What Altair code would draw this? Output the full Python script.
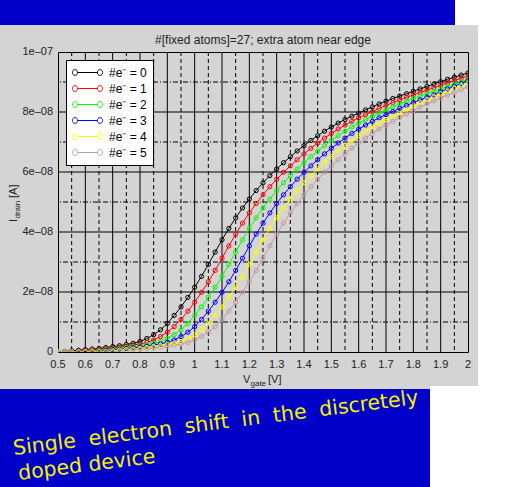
import altair as alt
import pandas as pd

# ---------------- data (drain current in units of 1e-8 A) ----------------
volts = [round(0.5 + 0.025 * i, 4) for i in range(61)]  # V_gate sampling grid 0.5 .. 2.0

labels = ["#e\u207b = 0", "#e\u207b = 1", "#e\u207b = 2", "#e\u207b = 3", "#e\u207b = 4", "#e\u207b = 5"]
colors = ["#000000", "#ff0000", "#00ff00", "#0000ff", "#ffff00", "#c49a9a"]

e0 = [0.00, 0.02, 0.04, 0.06, 0.08, 0.10, 0.12, 0.15, 0.18, 0.21,
      0.25, 0.29, 0.35, 0.45, 0.58, 0.74, 0.95, 1.22, 1.50, 1.82,
      2.16, 2.52, 2.92, 3.33, 3.74, 4.12, 4.47, 4.80, 5.10, 5.38,
      5.64, 5.88, 6.10, 6.31, 6.51, 6.70, 6.88, 7.05, 7.21, 7.36,
      7.50, 7.63, 7.75, 7.86, 7.96, 8.07, 8.17, 8.27, 8.36, 8.45,
      8.53, 8.61, 8.69, 8.77, 8.85, 8.93, 9.01, 9.09, 9.16, 9.23,
      9.30]
e1 = [0.00, 0.005, 0.01, 0.03, 0.05, 0.07, 0.09, 0.11, 0.135, 0.165,
      0.195, 0.23, 0.27, 0.32, 0.40, 0.515, 0.66, 0.845, 1.085, 1.36,
      1.66, 1.99, 2.34, 2.72, 3.125, 3.535, 3.93, 4.295, 4.635, 4.95,
      5.24, 5.51, 5.76, 5.99, 6.205, 6.41, 6.605, 6.79, 6.965, 7.13,
      7.285, 7.43, 7.565, 7.69, 7.805, 7.91, 8.015, 8.12, 8.22, 8.315,
      8.405, 8.49, 8.57, 8.65, 8.73, 8.81, 8.89, 8.97, 9.05, 9.125,
      9.195]
e2 = [0.00, 0.005, 0.01, 0.015, 0.025, 0.04, 0.06, 0.08, 0.10, 0.12,
      0.15, 0.18, 0.21, 0.25, 0.29, 0.35, 0.45, 0.58, 0.74, 0.95,
      1.22, 1.50, 1.82, 2.16, 2.52, 2.92, 3.33, 3.74, 4.12, 4.47,
      4.80, 5.10, 5.38, 5.64, 5.88, 6.10, 6.31, 6.51, 6.70, 6.88,
      7.05, 7.21, 7.36, 7.50, 7.63, 7.75, 7.86, 7.96, 8.07, 8.17,
      8.27, 8.36, 8.45, 8.53, 8.61, 8.69, 8.77, 8.85, 8.93, 9.01,
      9.09]
e3 = [0.00, 0.002, 0.004, 0.006, 0.008, 0.01, 0.03, 0.05, 0.07, 0.09,
      0.11, 0.135, 0.165, 0.195, 0.23, 0.27, 0.32, 0.40, 0.515, 0.66,
      0.845, 1.085, 1.36, 1.66, 1.99, 2.34, 2.72, 3.125, 3.535, 3.93,
      4.295, 4.635, 4.95, 5.24, 5.51, 5.76, 5.99, 6.205, 6.41, 6.605,
      6.79, 6.965, 7.13, 7.285, 7.43, 7.565, 7.69, 7.805, 7.91, 8.015,
      8.12, 8.22, 8.315, 8.405, 8.49, 8.57, 8.68, 8.77, 8.86, 8.95,
      9.04]
e4 = [0.00, 0.002, 0.004, 0.006, 0.008, 0.012, 0.016, 0.02, 0.04, 0.06,
      0.08, 0.10, 0.12, 0.15, 0.18, 0.21, 0.25, 0.29, 0.35, 0.45,
      0.58, 0.74, 0.95, 1.22, 1.50, 1.82, 2.16, 2.52, 2.92, 3.33,
      3.74, 4.12, 4.47, 4.80, 5.10, 5.38, 5.64, 5.88, 6.10, 6.31,
      6.51, 6.70, 6.88, 7.05, 7.21, 7.36, 7.50, 7.63, 7.75, 7.86,
      7.96, 8.07, 8.20, 8.31, 8.41, 8.51, 8.60, 8.69, 8.78, 8.87,
      8.96]
e5 = [0.00, 0.001, 0.002, 0.003, 0.004, 0.005, 0.006, 0.008, 0.01, 0.03,
      0.05, 0.07, 0.09, 0.11, 0.135, 0.165, 0.195, 0.23, 0.27, 0.32,
      0.40, 0.515, 0.66, 0.845, 1.085, 1.36, 1.66, 1.99, 2.34, 2.72,
      3.125, 3.535, 3.93, 4.295, 4.635, 4.95, 5.24, 5.51, 5.76, 5.99,
      6.205, 6.41, 6.605, 6.79, 6.965, 7.13, 7.285, 7.43, 7.565, 7.69,
      7.82, 7.93, 8.05, 8.16, 8.27, 8.37, 8.47, 8.56, 8.65, 8.75,
      8.84]
series = [e0, e1, e2, e3, e4, e5]

x_major = [0.5, 0.6, 0.7, 0.8, 0.9, 1.0, 1.1, 1.2, 1.3, 1.4, 1.5, 1.6, 1.7, 1.8, 1.9, 2.0]
x_major_labels = ["0.5", "0.6", "0.7", "0.8", "0.9", "1", "1.1", "1.2", "1.3", "1.4",
                  "1.5", "1.6", "1.7", "1.8", "1.9", "2"]
x_minor = [0.55, 0.65, 0.75, 0.85, 0.95, 1.05, 1.15, 1.25, 1.35, 1.45, 1.55, 1.65, 1.75, 1.85, 1.95]
y_major = [0, 2e-8, 4e-8, 6e-8, 8e-8, 1e-7]
y_major_labels = ["0", "2e\u201308", "4e\u201308", "6e\u201308", "8e\u201308", "1e\u201307"]
y_minor = [1e-8, 3e-8, 5e-8, 7e-8, 9e-8]

title_text = "#[fixed atoms]=27; extra atom near edge"
NB = "\u00a0"
caption_1 = ("Single" + NB + NB + "electron" + NB + NB + "shift" + NB + NB + "in" + NB + NB
             + "the" + NB + NB + "discretely")
caption_2 = "doped" + NB + "device"

rows = []
for k, (lab, vals) in enumerate(zip(labels, series)):
    for v, y in zip(volts, vals):
        rows.append({"V": v, "I": y * 1e-8, "series": lab, "k": k})
df = pd.DataFrame(rows)

# ---------------- layout ----------------
W, H = 410, 300          # plot area
L, T = 58, 52            # plot origin on the page
GRAY = "#d4d4d4"
BLUE = "#0000c8"
YELLOW = "#f2f200"
INK = "#222222"
FONT = "Liberation Sans"

xs = alt.Scale(domain=[0.5, 2.0], nice=False, zero=False)
ys = alt.Scale(domain=[0, 1e-7], nice=False, zero=False)
cs = alt.Scale(domain=labels, range=colors)

one = pd.DataFrame({"d": [0]})


def box(x1, x2, y1, y2, color):
    return alt.Chart(one).mark_rect(color=color, opacity=1).encode(
        x=alt.value(x1 - L), x2=alt.value(x2 - L), y=alt.value(y1 - T), y2=alt.value(y2 - T)
    )


def txt(s, x, y, size, color, angle=0, font=FONT, align="left"):
    return alt.Chart(one).mark_text(
        text=s, fontSize=size, color=color, font=font, angle=angle,
        align=align, baseline="alphabetic"
    ).encode(x=alt.value(x - L), y=alt.value(y - T))


deco = [
    box(0, 455, 0, 25, BLUE),
    box(455, 506, 0, 25, "white"),
    box(478, 506, 0, 487, "white"),
    box(0, 430, 389, 487, BLUE),
    box(430, 506, 386, 487, "white"),
]

major_x = alt.Chart(pd.DataFrame({"gx": x_major[1:-1]})).mark_rule(
    color="black", strokeWidth=1).encode(x=alt.X("gx:Q", scale=xs, axis=None))
minor_x = alt.Chart(pd.DataFrame({"mx": x_minor})).mark_rule(
    color="black", strokeWidth=1, strokeDash=[4, 3]).encode(x=alt.X("mx:Q", scale=xs, axis=None))
major_y = alt.Chart(pd.DataFrame({"gy": y_major[1:-1]})).mark_rule(
    color="black", strokeWidth=1).encode(y=alt.Y("gy:Q", scale=ys, axis=None))
minor_y = alt.Chart(pd.DataFrame({"my": y_minor})).mark_rule(
    color="black", strokeWidth=1, strokeDash=[5, 2, 1, 2]).encode(y=alt.Y("my:Q", scale=ys, axis=None))

# tick labels, placed through the same scales
x_ticks = alt.Chart(pd.DataFrame({"tx": x_major, "lab": x_major_labels})).mark_text(
    fontSize=11, font=FONT, color=INK, align="center", baseline="alphabetic"
).encode(x=alt.X("tx:Q", scale=xs, axis=None), y=alt.value(H + 16), text="lab:N")
y_ticks = alt.Chart(pd.DataFrame({"ty": y_major, "lab": y_major_labels})).mark_text(
    fontSize=11, font=FONT, color=INK, align="right", baseline="middle"
).encode(y=alt.Y("ty:Q", scale=ys, axis=None), x=alt.value(-5), text="lab:N")

SYM = ("M-1.67,0L1.67,0"
       "M-1.67,0A0.42,0.42,0,1,1,-2.5,0A0.42,0.42,0,1,1,-1.67,0"
       "M2.5,0A0.42,0.42,0,1,1,1.67,0A0.42,0.42,0,1,1,2.5,0")
legend = alt.Legend(
    title=None, orient="top-left", offset=8, fillColor="white", strokeColor="black",
    padding=6, labelFontSize=12, labelFont=FONT, labelColor="black", symbolType=SYM,
    symbolSize=144, symbolStrokeWidth=1, symbolFillColor="transparent", rowPadding=3,
    symbolOffset=9, labelOffset=15, cornerRadius=0,
)

lines = alt.Chart(df).mark_line(strokeWidth=1, clip=True).encode(
    x=alt.X("V:Q", scale=xs, axis=None),
    y=alt.Y("I:Q", scale=ys, axis=None),
    color=alt.Color("series:N", scale=cs, legend=legend),
    detail="k:N",
)
points = alt.Chart(df).mark_point(shape="circle", filled=False, size=18, strokeWidth=1,
                                  opacity=1, clip=True).encode(
    x=alt.X("V:Q", scale=xs, axis=None),
    y=alt.Y("I:Q", scale=ys, axis=None),
    color=alt.Color("series:N", scale=cs, legend=legend),
    order=alt.Order("k:Q"),
)

# titles (with subscripts) and slide caption
cx = W / 2 + L
texts = [
    txt(title_text, cx, 44, 12, INK, align="center"),
    txt("V", cx - 20, 383, 11, INK),
    txt("gate", cx - 12.5, 386, 8, INK),
    txt("[V]", cx + 5, 383, 11, INK),
    txt("I", 17, T + 170, 11, INK, angle=270),
    txt("drain", 20, T + 166.5, 8, INK, angle=270),
    txt("[A]", 17, T + 146, 11, INK, angle=270),
    txt(caption_1, 14, 455, 20.5, YELLOW, angle=352.8, font="DejaVu Sans"),
    txt(caption_2, 19, 480, 20.5, YELLOW, angle=352.8, font="DejaVu Sans"),
]

chart = alt.layer(
    *deco, minor_x, minor_y, major_x, major_y, lines, points, x_ticks, y_ticks, *texts
).properties(
    width=W, height=H,
    autosize=alt.AutoSizeParams(type="none"),
    padding={"left": L, "top": T, "right": 506 - L - W, "bottom": 487 - T - H},
    background=GRAY,
).configure_view(stroke="black", strokeWidth=1)

chart.save("out.html", embed_options={"renderer": "svg", "actions": False})
